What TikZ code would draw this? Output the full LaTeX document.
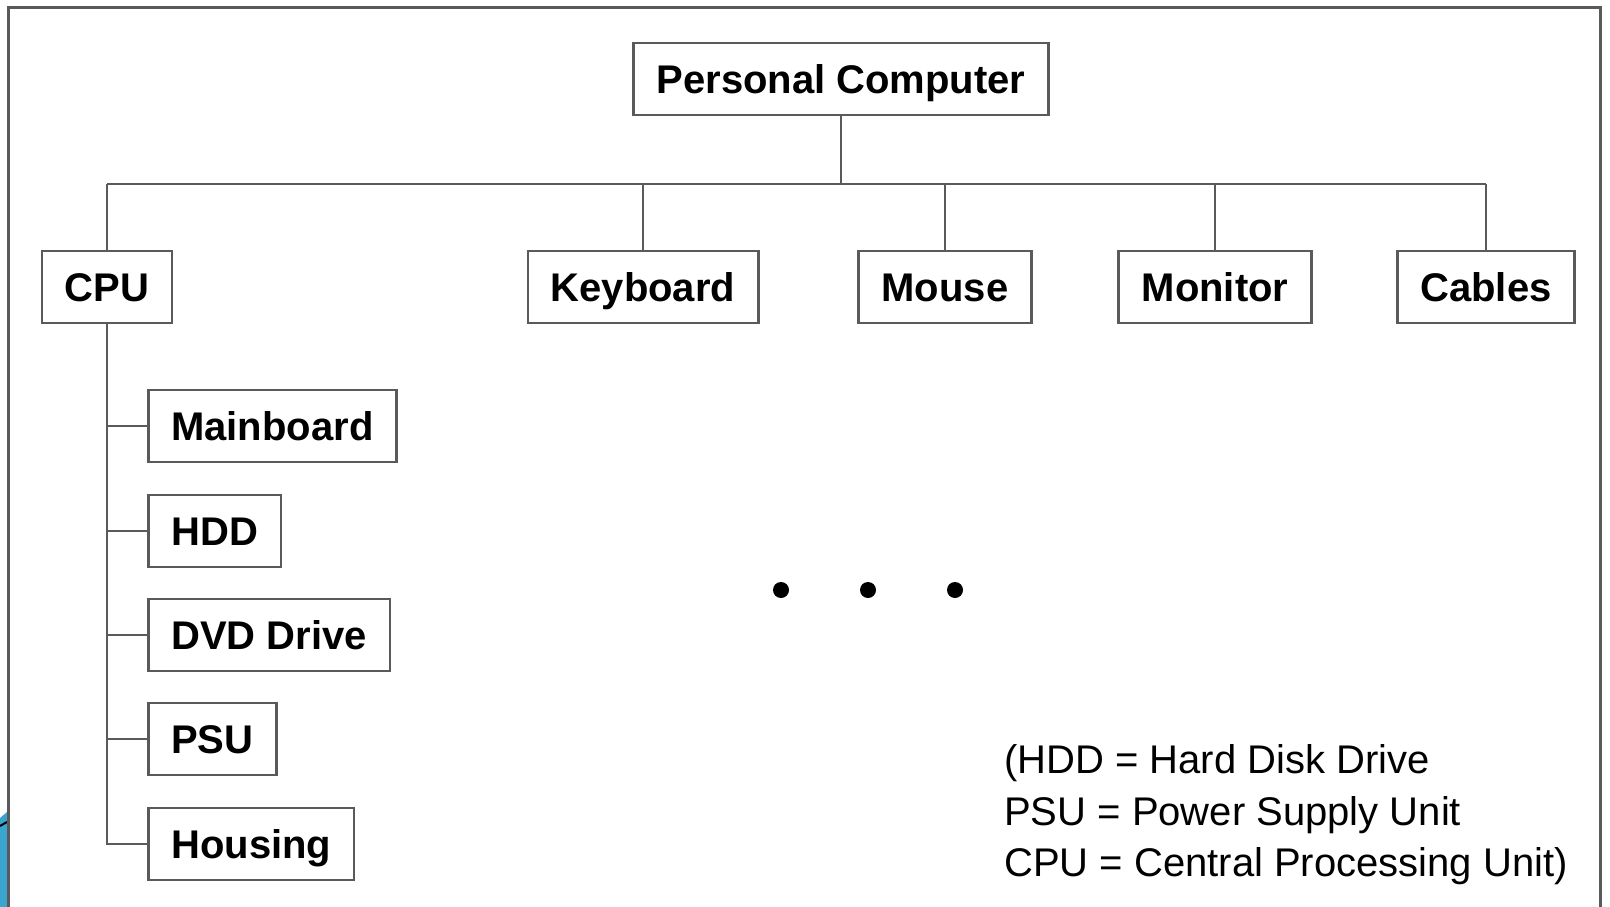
\documentclass[tikz,border=0pt]{standalone}
\usepackage{fontspec}
\setmainfont{Liberation Sans}
\definecolor{linegray}{HTML}{5A5A5A}
\definecolor{slideblue}{HTML}{3AA6CF}
\tikzset{
  box/.style={draw=linegray, fill=white, line width=2.5pt, inner xsep=23pt,
    text height=29pt, text depth=0pt,
    minimum height=72pt, font=\fontsize{40}{48}\selectfont\bfseries},
  link/.style={linegray, line width=2.5pt},
  legend/.style={anchor=base west, inner sep=0pt, font=\fontsize{40}{48}\selectfont}
}

\begin{document}
\begin{tikzpicture}[x=1pt,y=-1pt]
    \useasboundingbox (0,0) rectangle (1610,907);
    \coordinate (F0) at (8,8);
    \coordinate (F1) at (1600,930);
    \coordinate (bus) at (0,184);
      % frame and slide corner
      \fill [slideblue] (0,818) -- (7,812) -- (7,907) -- (0,907) -- cycle;
      \draw [line width=2pt] (0,826) -- (7,822);
      \draw [linegray, line width=3pt] (F0) rectangle (F1);
      % top level
      \node [box] (pc) at (841,79) {Personal Computer};
      \node [box] (cpu) at (107,287) {CPU};
      \node [box] (keyboard) at (643,287) {Keyboard};
      \node [box] (mouse) at (945,287) {Mouse};
      \node [box] (monitor) at (1215,287) {Monitor};
      \node [box] (cables) at (1486,287) {Cables};
      \draw [link] (pc.south) -- (pc.south |- bus);
      \draw [link] (cpu.north |- bus) -- (cables.north |- bus);
      \draw [link] (cpu.north) -- (cpu.north |- bus);
      \draw [link] (keyboard.north) -- (keyboard.north |- bus);
      \draw [link] (mouse.north) -- (mouse.north |- bus);
      \draw [link] (monitor.north) -- (monitor.north |- bus);
      \draw [link] (cables.north) -- (cables.north |- bus);
      % parts of the CPU
      \node [box, anchor=west] (mainboard) at (147,426) {Mainboard};
      \node [box, anchor=west] (hdd) at (147,531) {HDD};
      \node [box, anchor=west] (dvd) at (147,635) {DVD Drive};
      \node [box, anchor=west] (psu) at (147,739) {PSU};
      \node [box, anchor=west] (housing) at (147,844) {Housing};
      \draw [link] (cpu.south) |- (housing.west);
      \draw [link] (mainboard.west) -- (mainboard.west -| cpu.south);
      \draw [link] (hdd.west) -- (hdd.west -| cpu.south);
      \draw [link] (dvd.west) -- (dvd.west -| cpu.south);
      \draw [link] (psu.west) -- (psu.west -| cpu.south);
      % dots
      \fill (781,590) circle (8);
      \fill (868,590) circle (8);
      \fill (955,590) circle (8);
      % legend
      \node [legend] (leg1) at (1004,773) {(HDD = Hard Disk Drive};
      \node [legend] (leg2) at (1004,825) {PSU = Power Supply Unit};
      \node [legend] (leg3) at (1004,876) {CPU = Central Processing Unit)};
  \end{tikzpicture}
\end{document}
